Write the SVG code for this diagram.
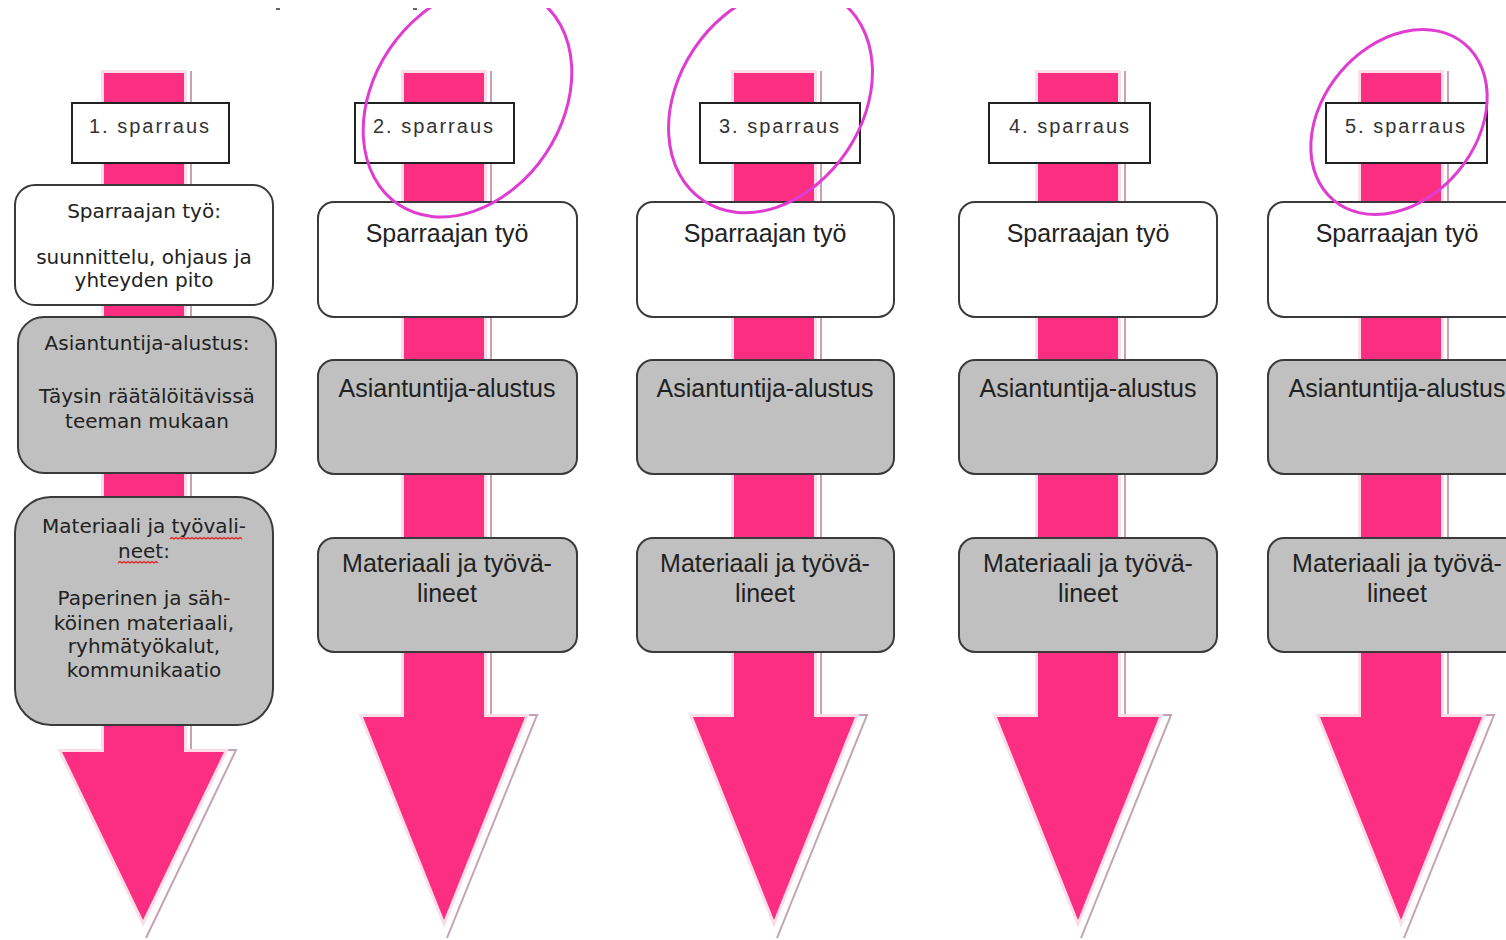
<svg xmlns="http://www.w3.org/2000/svg" width="1506" height="940" viewBox="0 0 1506 940">
  <defs>
    <style>
      .shadow { fill: none; stroke: #c6a2b4; stroke-width: 2; }
      .arrow { fill: #fb2e82; stroke: #fbdde8; stroke-width: 6; stroke-linejoin: miter; paint-order: stroke fill; }
      .lbl rect { fill: #ffffff; stroke: #222; stroke-width: 2; }
      .lbl text { font-family: "Liberation Sans", Arial, sans-serif; font-size: 20px; letter-spacing: 2px; fill: #333; text-anchor: middle; }
      .white { fill: #ffffff; stroke: #3a3a3a; stroke-width: 2; }
      .grey { fill: #c0c0c0; stroke: #3a3a3a; stroke-width: 2; }
      .t1 { font-family: "DejaVu Sans", Verdana, sans-serif; font-size: 20px; fill: #222; text-anchor: middle; }
      .t2 { font-family: "Liberation Sans", Arial, sans-serif; font-size: 25px; fill: #222; text-anchor: middle; }
      .ring { fill: none; stroke: #e03cd2; stroke-width: 3; }
      .squiggle { fill: none; stroke: #e02020; stroke-width: 1.2; }
    </style>
    <clipPath id="pageClip">
      <rect x="0" y="8" width="1506" height="932"/>
    </clipPath>
  </defs>

  <rect x="0" y="0" width="1506" height="940" fill="#ffffff"/>

  <!-- small marks along the top edge -->
  <rect x="276" y="8" width="4" height="2" fill="#666"/>
  <rect x="413" y="8" width="4" height="2" fill="#666"/>

  <!-- down arrows behind the boxes -->
  <g id="connectors">
    <path class="shadow" d="M191,71 V750 H236 L146,938"/>
    <polygon class="arrow" points="104,73 184,73 184,752 224,752 143,920 62,752 104,752"/>

    <path class="shadow" d="M491,71 V715 H537 L447,938"/>
    <polygon class="arrow" points="404,73 484,73 484,717 525,717 444,920 363,717 404,717"/>

    <path class="shadow" d="M821,71 V715 H867 L777,938"/>
    <polygon class="arrow" points="734,73 814,73 814,717 855,717 774,920 693,717 734,717"/>

    <path class="shadow" d="M1125,71 V715 H1171 L1081,938"/>
    <polygon class="arrow" points="1038,73 1118,73 1118,717 1159,717 1078,920 997,717 1038,717"/>

    <path class="shadow" d="M1448,71 V715 H1494 L1404,938"/>
    <polygon class="arrow" points="1361,73 1441,73 1441,717 1482,717 1401,920 1320,717 1361,717"/>
  </g>

  <!-- column 1 -->
  <g id="col1">
    <g id="label1" class="lbl">
      <rect x="72" y="103" width="157" height="60"/>
      <text x="150" y="133">1. sparraus</text>
    </g>
    <g id="work1">
      <rect class="white" x="15" y="185" width="258" height="120" rx="20"/>
      <text class="t1" x="144" y="218">Sparraajan työ:</text>
      <text class="t1" x="144" y="264">suunnittelu, ohjaus ja</text>
      <text class="t1" x="144" y="287">yhteyden pito</text>
    </g>
    <g id="expert1">
      <rect class="grey" x="18" y="317" width="258" height="156" rx="26"/>
      <text class="t1" x="147" y="350">Asiantuntija-alustus:</text>
      <text class="t1" x="147" y="403">Täysin räätälöitävissä</text>
      <text class="t1" x="147" y="428">teeman mukaan</text>
    </g>
    <g id="material1">
      <rect class="grey" x="15" y="497" width="258" height="228" rx="36"/>
      <text class="t1" x="144" y="533">Materiaali ja työvali-</text>
      <text class="t1" x="144" y="558">neet:</text>
      <path class="squiggle" d="M170,539 l2,-1.5 l2,1.5 l2,-1.5 l2,1.5 l2,-1.5 l2,1.5 l2,-1.5 l2,1.5 l2,-1.5 l2,1.5 l2,-1.5 l2,1.5 l2,-1.5 l2,1.5 l2,-1.5 l2,1.5 l2,-1.5 l2,1.5 l2,-1.5 l2,1.5 l2,-1.5 l2,1.5 l2,-1.5 l2,1.5 l2,-1.5 l2,1.5 l2,-1.5 l2,1.5 l2,-1.5 l2,1.5 l2,-1.5 l2,1.5 l2,-1.5 l2,1.5 l2,-1.5 l2,1.5"/>
      <path class="squiggle" d="M118,563 l2,-1.5 l2,1.5 l2,-1.5 l2,1.5 l2,-1.5 l2,1.5 l2,-1.5 l2,1.5 l2,-1.5 l2,1.5 l2,-1.5 l2,1.5 l2,-1.5 l2,1.5 l2,-1.5 l2,1.5 l2,-1.5 l2,1.5 l2,-1.5 l2,1.5"/>
      <text class="t1" x="144" y="605">Paperinen ja säh-</text>
      <text class="t1" x="144" y="630">köinen materiaali,</text>
      <text class="t1" x="144" y="653">ryhmätyökalut,</text>
      <text class="t1" x="144" y="677">kommunikaatio</text>
    </g>
  </g>

  <!-- column 2 -->
  <g id="col2">
    <g id="label2" class="lbl">
      <rect x="355" y="103" width="159" height="60"/>
      <text x="434" y="133">2. sparraus</text>
    </g>
    <g id="work2">
      <rect class="white" x="318" y="202" width="259" height="115" rx="16"/>
      <text class="t2" x="447" y="242">Sparraajan työ</text>
    </g>
    <g id="expert2">
      <rect class="grey" x="318" y="360" width="259" height="114" rx="16"/>
      <text class="t2" x="447" y="397">Asiantuntija-alustus</text>
    </g>
    <g id="material2">
      <rect class="grey" x="318" y="538" width="259" height="114" rx="16"/>
      <text class="t2" x="447" y="572">Materiaali ja työvä-</text>
      <text class="t2" x="447" y="602">lineet</text>
    </g>
  </g>

  <!-- column 3 -->
  <g id="col3">
    <g id="label3" class="lbl">
      <rect x="700" y="103" width="160" height="60"/>
      <text x="780" y="133">3. sparraus</text>
    </g>
    <g id="work3">
      <rect class="white" x="637" y="202" width="257" height="115" rx="16"/>
      <text class="t2" x="765" y="242">Sparraajan työ</text>
    </g>
    <g id="expert3">
      <rect class="grey" x="637" y="360" width="257" height="114" rx="16"/>
      <text class="t2" x="765" y="397">Asiantuntija-alustus</text>
    </g>
    <g id="material3">
      <rect class="grey" x="637" y="538" width="257" height="114" rx="16"/>
      <text class="t2" x="765" y="572">Materiaali ja työvä-</text>
      <text class="t2" x="765" y="602">lineet</text>
    </g>
  </g>

  <!-- column 4 -->
  <g id="col4">
    <g id="label4" class="lbl">
      <rect x="989" y="103" width="161" height="60"/>
      <text x="1070" y="133">4. sparraus</text>
    </g>
    <g id="work4">
      <rect class="white" x="959" y="202" width="258" height="115" rx="16"/>
      <text class="t2" x="1088" y="242">Sparraajan työ</text>
    </g>
    <g id="expert4">
      <rect class="grey" x="959" y="360" width="258" height="114" rx="16"/>
      <text class="t2" x="1088" y="397">Asiantuntija-alustus</text>
    </g>
    <g id="material4">
      <rect class="grey" x="959" y="538" width="258" height="114" rx="16"/>
      <text class="t2" x="1088" y="572">Materiaali ja työvä-</text>
      <text class="t2" x="1088" y="602">lineet</text>
    </g>
  </g>

  <!-- column 5 -->
  <g id="col5">
    <g id="label5" class="lbl">
      <rect x="1326" y="103" width="161" height="60"/>
      <text x="1406" y="133">5. sparraus</text>
    </g>
    <g id="work5">
      <rect class="white" x="1268" y="202" width="258" height="115" rx="16"/>
      <text class="t2" x="1397" y="242">Sparraajan työ</text>
    </g>
    <g id="expert5">
      <rect class="grey" x="1268" y="360" width="258" height="114" rx="16"/>
      <text class="t2" x="1397" y="397">Asiantuntija-alustus</text>
    </g>
    <g id="material5">
      <rect class="grey" x="1268" y="538" width="258" height="114" rx="16"/>
      <text class="t2" x="1397" y="572">Materiaali ja työvä-</text>
      <text class="t2" x="1397" y="602">lineet</text>
    </g>
  </g>

  <!-- hand-drawn highlight rings -->
  <g id="highlights" clip-path="url(#pageClip)">
    <ellipse class="ring" cx="467.5" cy="101.5" rx="124" ry="94" transform="rotate(-56 467.5 101.5)"/>
    <ellipse class="ring" cx="770.5" cy="100" rx="121" ry="92" transform="rotate(-56 770.5 100)"/>
    <ellipse class="ring" cx="1399" cy="122" rx="102" ry="77" transform="rotate(-50 1399 122)"/>
  </g>
</svg>
